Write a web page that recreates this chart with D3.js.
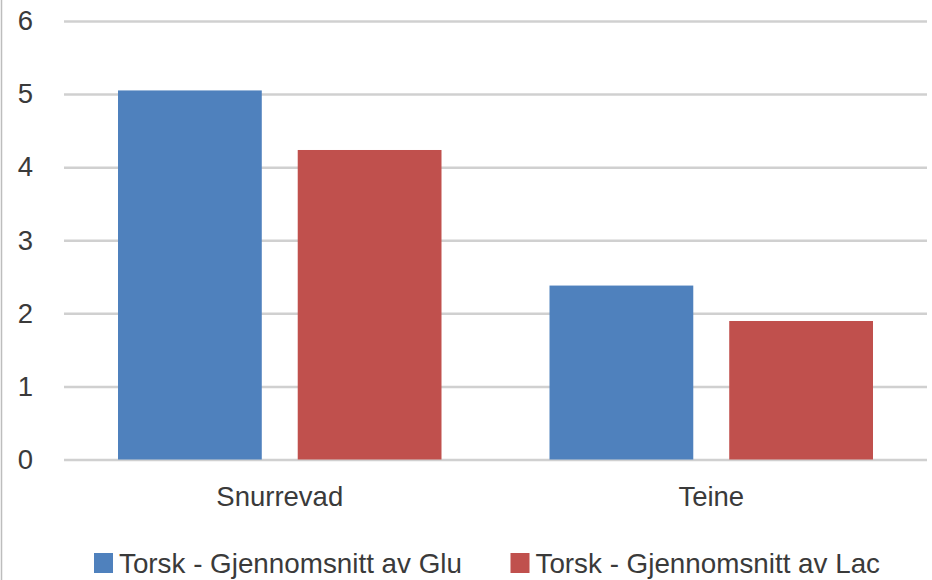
<!DOCTYPE html>
<html>
<head>
<meta charset="utf-8">
<script src="https://cdn.jsdelivr.net/npm/d3@7"></script>
<style>
  body { margin: 0; background: #fff; }
  svg { display: block; font-family: "Liberation Sans", Arial, sans-serif; }
  .grid line { stroke: #d0d0d0; stroke-width: 2.5; }
  .grid text, .xaxis text, .legend text { fill: #3a3a3a; font-size: 27.5px; }
  .legend text { font-size: 27.8px; }
</style>
</head>
<body>
<div id="chart"></div>
<script>
// chart data
var categories = ["Snurrevad", "Teine"];
var seriesNames = ["Torsk - Gjennomsnitt av Glu", "Torsk - Gjennomsnitt av Lac"];
var gluValues = [5.05, 2.38];
var lacValues = [4.235, 1.895];
var yTicks = [0, 1, 2, 3, 4, 5, 6];
var colors = ["#4f81bd", "#c0504d"];

var width = 932, height = 580;
var plot = { left: 64, right: 927, top: 21, bottom: 459.5 };

var svg = d3.select("#chart")
  .append("svg")
  .attr("width", width)
  .attr("height", height);

// thin chart border on the left
svg.append("line")
  .attr("x1", 1.5).attr("x2", 1.5)
  .attr("y1", 0).attr("y2", height)
  .attr("stroke", "#bdbdbd")
  .attr("stroke-width", 1.5);

var yScale = d3.scaleLinear()
  .domain([0, 6])
  .range([plot.bottom, plot.top]);

var x0 = d3.scaleBand()
  .domain(categories)
  .range([plot.left, plot.right]);

var x1 = d3.scaleBand()
  .domain(seriesNames)
  .range([54, x0.bandwidth() - 54])
  .paddingInner(0.2);

// gridlines + y labels
var yAxis = d3.axisLeft(yScale)
  .tickValues(yTicks)
  .tickFormat(d3.format("d"))
  .tickSize(-(plot.right - plot.left))
  .tickPadding(31);

svg.append("g")
  .attr("class", "grid")
  .attr("transform", "translate(" + plot.left + ",0)")
  .call(yAxis)
  .call(g => g.select(".domain").remove());

// bars
var rows = categories.map(function(c, i) {
  return { cat: c, values: [gluValues[i], lacValues[i]] };
});

var groups = svg.selectAll(".group")
  .data(rows)
  .enter()
  .append("g")
  .attr("class", "group")
  .attr("transform", function(d) { return "translate(" + x0(d.cat) + ",0)"; });

groups.selectAll("rect")
  .data(function(d) {
    return d.values.map(function(v, j) { return { name: seriesNames[j], value: v, j: j }; });
  })
  .enter()
  .append("rect")
  .attr("x", function(d) { return x1(d.name); })
  .attr("width", x1.bandwidth())
  .attr("y", function(d) { return yScale(d.value); })
  .attr("height", function(d) { return yScale(0) - yScale(d.value); })
  .attr("fill", function(d) { return colors[d.j]; });

// category axis
svg.append("g")
  .attr("class", "xaxis")
  .attr("transform", "translate(0," + plot.bottom + ")")
  .call(d3.axisBottom(x0).tickSize(0).tickPadding(27))
  .call(g => g.select(".domain").remove());

// legend
var legendX = [94, 510.5];
var legend = svg.selectAll(".legend")
  .data(seriesNames)
  .enter()
  .append("g")
  .attr("class", "legend")
  .attr("transform", function(d, i) { return "translate(" + legendX[i] + ",553)"; });

legend.append("rect")
  .attr("width", 19)
  .attr("height", 20)
  .attr("fill", function(d, i) { return colors[i]; });

legend.append("text")
  .attr("x", 25)
  .attr("y", 20)
  .text(function(d) { return d; });
</script>
</body>
</html>
